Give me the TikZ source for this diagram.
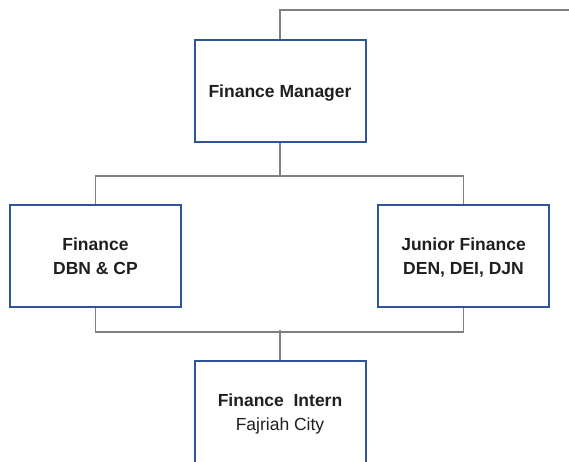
\documentclass[tikz,border=0pt]{standalone}
\usepackage{fontspec}
\setmainfont{Liberation Sans}
\usepackage{tikz}
\usetikzlibrary{positioning}

\definecolor{boxblue}{HTML}{2F5597}
\definecolor{linegray}{HTML}{808080}
\definecolor{textdark}{HTML}{1F1F1F}

\tikzset{
  rolebox/.style={draw=boxblue, line width=2pt, fill=white, minimum width=171pt,
    minimum height=102pt, align=center, text=textdark, text depth=0pt,
    font=\fontsize{17.5}{23.5}\selectfont},
  link/.style={draw=linegray, line width=1.2pt}
}

\begin{document}
\begin{tikzpicture}[x=1pt, y=-1pt]
  % Fix the page size
  \useasboundingbox (0,0) rectangle (569,461);

  % Define the boxes
  \node[rolebox] (mgr) at (280,91) {\textbf{Finance Manager}};
  \node[rolebox] (fin) at (95.5,256) {\textbf{Finance}\\\textbf{DBN \& CP}};
  \node[rolebox] (jun) at (463.5,256) {\textbf{Junior Finance}\\\textbf{DEN, DEI, DJN}};
  \node[rolebox] (intern) at (280,412) {\textbf{Finance\ \ Intern}\\Fajriah City};

  % Define the free end of the top line
  \coordinate (top) at (569,10);

  % Draw the connectors
  \draw[link] (mgr.north) |- (top);
  \draw[link] (mgr.south) -- ++(0,33) coordinate (split);
  \foreach \n in {fin,jun} {
    \draw[link] (split) -| (\n.north);
  }
  \draw[link] (fin.south) -- ++(0,24) -| (jun.south);
  \draw[link] (intern.north) -- ++(0,-30);

\end{tikzpicture}
\end{document}
